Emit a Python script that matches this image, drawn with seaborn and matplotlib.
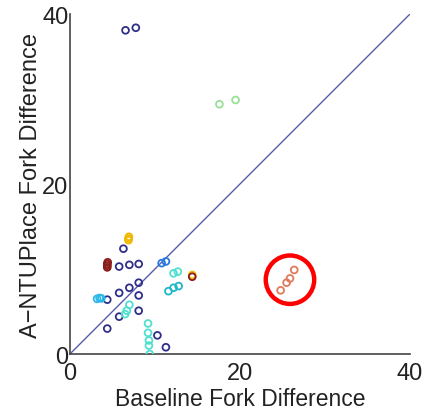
import matplotlib
matplotlib.use("Agg")
import matplotlib.pyplot as plt
import seaborn as sns
import pandas as pd
from matplotlib.patches import Circle

sns.set_theme(style="white")
plt.rcParams['font.family'] = ['Liberation Sans', 'DejaVu Sans']

# groups: (color, x values, y values)
navy_x = [6.55, 7.76, 6.3, 5.8, 7.0, 8.1, 8.1, 7.0, 5.8, 8.1, 4.4, 8.1, 5.8, 4.4, 10.3, 11.3]
navy_y = [38.1, 38.4, 12.4, 10.3, 10.5, 10.6, 8.4, 7.8, 7.2, 6.9, 6.4, 5.1, 4.4, 3.0, 2.2, 0.8]
blue_x = [10.8, 11.3]
blue_y = [10.7, 10.9]
sky_x = [3.2, 3.5, 3.7]
sky_y = [6.5, 6.6, 6.55]
teal_x = [11.6, 12.2, 12.8]
teal_y = [7.4, 7.8, 8.0]
aqua_x = [12.2, 12.7, 7.0, 6.7, 6.5, 9.2, 9.2, 9.3, 9.3, 9.4]
aqua_y = [9.5, 9.7, 5.8, 5.1, 4.7, 3.6, 2.5, 1.6, 1.0, 0.0]
green_x = [17.6, 19.5]
green_y = [29.4, 29.9]
yellow_x = [6.9, 6.9, 6.95, 14.4]
yellow_y = [13.4, 13.6, 13.8, 9.3]
darkred_x = [4.4, 4.4, 4.4, 4.45, 14.4]
darkred_y = [10.2, 10.4, 10.6, 10.8, 9.1]
orange_x = [24.8, 25.5, 25.9, 26.4]
orange_y = [7.5, 8.4, 8.9, 9.9]

groups = [
    ("#2f2f8a", navy_x, navy_y),
    ("#2a78e0", blue_x, blue_y),
    ("#2cb8e8", sky_x, sky_y),
    ("#20b8c8", teal_x, teal_y),
    ("#50e0d0", aqua_x, aqua_y),
    ("#98e098", green_x, green_y),
    ("#f0b800", yellow_x, yellow_y),
    ("#8b1a1a", darkred_x, darkred_y),
    ("#e07a5a", orange_x, orange_y),
]

fig = plt.figure(figsize=(4.26, 4.10), dpi=100)
ax = fig.add_axes([0.164, 0.134, 0.798, 0.829])

for c, xs, ys in groups:
    df = pd.DataFrame({"x": xs, "y": ys})
    sns.scatterplot(data=df, x="x", y="y", ax=ax, s=24, marker="o",
                    color=c, edgecolor=c, linewidth=1.3, zorder=3)
    ax.collections[-1].set_facecolor("none")

ax.plot([0, 40], [0, 40], color="#5a5aaa", lw=1.0, zorder=2)

ax.add_patch(Circle((25.9, 8.75), 2.85, fill=False, edgecolor="#ff0000", lw=3.2, zorder=4))

ax.set_xlim(0, 40)
ax.set_ylim(0, 40)
ax.set_xticks([0, 20, 40])
ax.set_yticks([0, 20, 40])
ax.tick_params(axis="both", direction="in", length=4, width=1, color="#333333",
               labelsize=17, labelcolor="#222222")
ax.tick_params(axis="x", pad=6)
ax.tick_params(axis="y", pad=1)
for side in ["top", "right"]:
    ax.spines[side].set_visible(False)
for side in ["left", "bottom"]:
    ax.spines[side].set_color("#444444")
    ax.spines[side].set_linewidth(1.2)
ax.set_xlabel("Baseline Fork Difference", fontsize=16.5, color="#222222")
ax.xaxis.set_label_coords(0.5, -0.098)
ax.set_ylabel("A\u2212NTUPlace Fork Difference", fontsize=17, color="#222222", labelpad=0)

fig.savefig("out.png", dpi=100)
